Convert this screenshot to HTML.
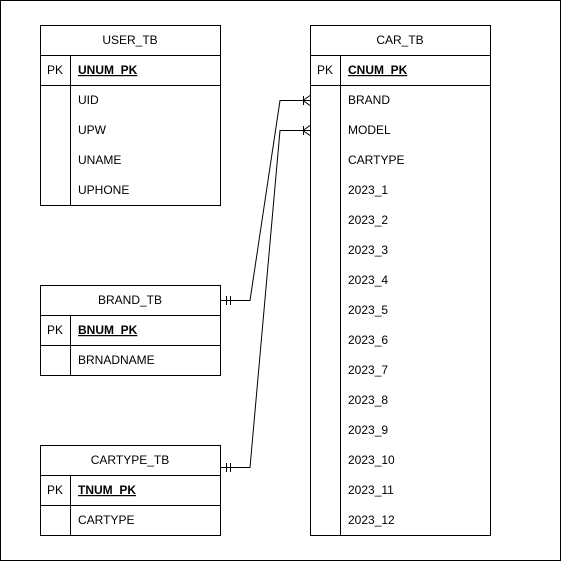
<!DOCTYPE html>
<html><head><style>
body{margin:0;background:#fff}
text{font-family:"Liberation Sans",Arial,sans-serif;font-size:12px;fill:#000}
</style></head><body>
<svg width="561" height="561" xmlns="http://www.w3.org/2000/svg">
<rect x="0.5" y="0.5" width="560" height="560" fill="#fff" stroke="#000"/>
<g fill="none" stroke="#000" stroke-width="1">
<rect x="40.5" y="25.5" width="180" height="180"/>
<line x1="40" y1="55.5" x2="220" y2="55.5"/>
<line x1="40" y1="85.5" x2="220" y2="85.5"/>
<line x1="70.5" y1="55" x2="70.5" y2="205"/>
<rect x="40.5" y="285.5" width="180" height="90"/>
<line x1="40" y1="315.5" x2="220" y2="315.5"/>
<line x1="40" y1="345.5" x2="220" y2="345.5"/>
<line x1="70.5" y1="315" x2="70.5" y2="375"/>
<rect x="40.5" y="445.5" width="180" height="90"/>
<line x1="40" y1="475.5" x2="220" y2="475.5"/>
<line x1="40" y1="505.5" x2="220" y2="505.5"/>
<line x1="70.5" y1="475" x2="70.5" y2="535"/>
<rect x="310.5" y="25.5" width="180" height="510"/>
<line x1="310" y1="55.5" x2="490" y2="55.5"/>
<line x1="310" y1="85.5" x2="490" y2="85.5"/>
<line x1="340.5" y1="55" x2="340.5" y2="535"/>
<polyline points="220,300.5 250,300.5 280,100.5 310,100.5"/>
<polyline points="220,467.5 250,467.5 280,130.5 310,130.5"/>
<line x1="226.5" y1="296" x2="226.5" y2="305"/>
<line x1="230.5" y1="296" x2="230.5" y2="305"/>
<line x1="226.5" y1="463" x2="226.5" y2="472"/>
<line x1="230.5" y1="463" x2="230.5" y2="472"/>
<line x1="303.5" y1="96" x2="303.5" y2="105"/>
<line x1="303" y1="100.5" x2="310" y2="95.5"/>
<line x1="303" y1="100.5" x2="310" y2="105.5"/>
<line x1="303.5" y1="126" x2="303.5" y2="135"/>
<line x1="303" y1="130.5" x2="310" y2="125.5"/>
<line x1="303" y1="130.5" x2="310" y2="135.5"/>
</g>
<g transform="translate(0,-1)">
<text x="130" y="45" text-anchor="middle">USER_TB</text>
<text x="55" y="75" text-anchor="middle">PK</text>
<text x="78" y="75" font-weight="bold" text-decoration="underline">UNUM_PK</text>
<text x="78" y="105">UID</text>
<text x="78" y="135">UPW</text>
<text x="78" y="165">UNAME</text>
<text x="78" y="195">UPHONE</text>
<text x="130" y="305" text-anchor="middle">BRAND_TB</text>
<text x="55" y="335" text-anchor="middle">PK</text>
<text x="78" y="335" font-weight="bold" text-decoration="underline">BNUM_PK</text>
<text x="78" y="365">BRNADNAME</text>
<text x="130" y="465" text-anchor="middle">CARTYPE_TB</text>
<text x="55" y="495" text-anchor="middle">PK</text>
<text x="78" y="495" font-weight="bold" text-decoration="underline">TNUM_PK</text>
<text x="78" y="525">CARTYPE</text>
<text x="400" y="45" text-anchor="middle">CAR_TB</text>
<text x="325" y="75" text-anchor="middle">PK</text>
<text x="348" y="75" font-weight="bold" text-decoration="underline">CNUM_PK</text>
<text x="348" y="105">BRAND</text>
<text x="348" y="135">MODEL</text>
<text x="348" y="165">CARTYPE</text>
<text x="348" y="195">2023_1</text>
<text x="348" y="225">2023_2</text>
<text x="348" y="255">2023_3</text>
<text x="348" y="285">2023_4</text>
<text x="348" y="315">2023_5</text>
<text x="348" y="345">2023_6</text>
<text x="348" y="375">2023_7</text>
<text x="348" y="405">2023_8</text>
<text x="348" y="435">2023_9</text>
<text x="348" y="465">2023_10</text>
<text x="348" y="495">2023_11</text>
<text x="348" y="525">2023_12</text>
</g>
</svg>
</body></html>
